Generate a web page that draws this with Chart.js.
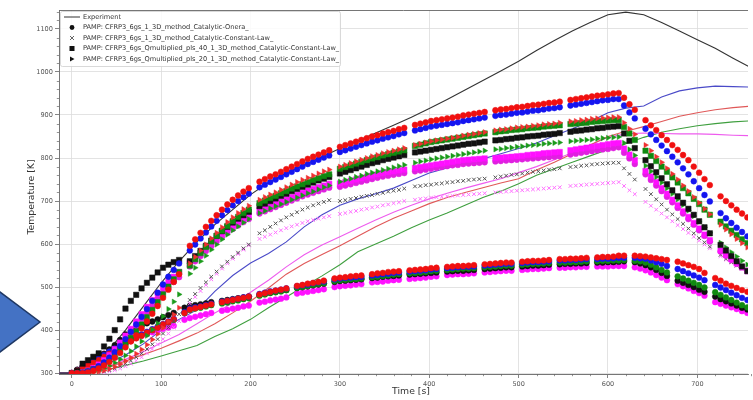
<!DOCTYPE html>
<html><head><meta charset="utf-8">
<script src="https://cdn.jsdelivr.net/npm/chart.js@4.4.1/dist/chart.umd.min.js"></script>
<style>
html,body{margin:0;padding:0;background:#fff;overflow:hidden}
#wrap{position:relative;width:753px;height:400px}
#arrow{position:absolute;left:0;top:0}
</style></head><body>
<div id="wrap"><canvas id="c" width="753" height="400"></canvas>
<svg id="arrow" width="60" height="400"><polygon points="-12,283 40,322 -12,361" fill="#4472c4" stroke="#1f3864" stroke-width="1.5"/></svg></div>
<script>
// ---- time grid of simulation outputs [s]
const times = [0,6,12,18,24,30,36,42,48,54,
60,66,72,78,84,90,96,102,108,114,
120,126,132,138,144,150,156,162,168,174,
180,186,192,198,204,210,216,222,228,234,
240,246,252,258,264,270,276,282,288,294,
300,306,312,318,324,330,336,342,348,354,
360,366,372,378,384,390,396,402,408,414,
420,426,432,438,444,450,456,462,468,474,
480,486,492,498,504,510,516,522,528,534,
540,546,552,558,564,570,576,582,588,594,
600,606,612,618,624,630,636,642,648,654,
660,666,672,678,684,690,696,702,708,714,
720,726,732,738,744,750,756];

// ---- upper band (surface probes)
const onerRed = [300,300,300,302,306,311,318,326,336,347,360,374,388,404,420,438,456,475,494,512,530,null,
596,611,626,640,654,667,680,692,703,713,722,730,null,
745,751,757,762,768,774,780,786,792,798,803,808,813,818,null,
826,830,834,838,842,846,850,853,857,860,863,867,870,null,
877,880,883,886,888,890,892,894,896,899,901,903,905,907,null,
911,913,914,916,918,919,921,923,924,926,928,929,931,null,
935,937,939,941,943,945,946,948,950,951,940,925,912,null,
888,876,865,853,842,830,819,807,795,780,766,751,737,null,
711,700,690,680,671,662];
const onerBlue = [300,300,301,304,309,316,325,336,349,363,379,396,413,431,449,468,487,506,524,540,555,null,
585,599,613,627,641,654,667,679,690,700,709,717,null,
732,738,744,750,756,762,768,774,780,786,791,796,801,806,null,
814,818,822,826,830,834,838,841,845,848,851,855,858,null,
864,867,870,873,875,877,879,881,883,886,888,890,892,894,null,
898,900,901,903,905,906,908,910,911,913,915,916,918,null,
922,924,926,928,930,932,934,935,937,937,922,906,892,null,
868,855,842,829,816,803,790,776,762,746,730,714,699,null,
672,660,649,638,628,618];
const q20Red = [300,300,300,300,301,303,306,310,315,321,328,336,345,355,366,378,391,405,420,436,452,null,
555,570,585,599,613,626,639,651,662,672,681,689,null,
703,709,715,720,726,732,738,744,749,754,759,764,769,773,null,
780,784,788,792,796,800,804,807,811,814,817,820,823,null,
830,833,836,839,841,843,845,847,849,852,854,856,858,860,null,
864,866,867,869,871,872,873,875,876,878,879,880,882,null,
885,886,888,889,891,892,893,894,895,895,882,868,855,null,
830,817,803,790,776,763,750,736,723,709,696,682,669,null,
645,634,623,612,602,592];
const q40Green = [300,300,301,304,309,315,323,332,343,355,368,382,397,413,430,447,465,483,501,518,535,null,
550,565,579,593,606,619,631,642,653,663,672,680,null,
695,701,707,712,718,723,729,734,739,744,749,753,758,762,null,
775,779,783,787,791,795,799,802,806,809,812,815,818,null,
828,831,834,837,839,841,843,845,847,849,851,853,855,857,null,
860,862,863,865,866,867,869,870,871,873,874,875,876,null,
879,880,881,882,884,885,886,887,888,888,872,857,842,null,
817,805,793,780,768,755,743,730,718,705,693,680,668,null,
652,641,631,621,611,602];
const q40Black = [300,305,322,330,338,346,362,380,400,425,450,468,482,497,510,522,534,545,552,558,563,null,
560,572,584,596,608,619,630,640,650,659,667,675,null,
688,694,700,706,712,717,723,728,733,738,743,748,752,756,null,
764,768,772,776,780,784,788,791,795,798,801,804,807,null,
813,815,817,819,821,823,825,827,829,831,833,834,836,838,null,
841,842,844,845,847,848,850,851,852,854,855,856,858,null,
861,863,864,866,867,869,870,872,873,874,857,840,823,null,
795,781,767,753,739,725,711,696,682,668,653,639,625,null,
598,585,572,560,548,537];
const q20Green = [300,300,300,301,303,306,311,317,324,332,341,351,362,374,387,401,416,432,449,466,483,null,
531,545,560,573,587,599,611,622,632,641,650,658,null,
672,677,683,688,693,698,703,708,713,718,722,727,732,736,null,
745,749,752,756,759,763,766,769,772,775,778,781,784,null,
789,792,794,797,799,801,803,805,807,809,811,813,815,817,null,
820,821,823,824,826,827,829,830,831,833,834,835,836,null,
839,840,841,842,843,845,846,847,848,849,835,820,806,null,
782,769,756,743,730,717,704,691,678,665,652,639,626,null,
603,592,581,571,561,552];
const q40Magenta = [300,300,302,306,312,320,330,342,356,371,387,403,420,437,454,470,485,499,512,524,535,null,
556,568,580,592,604,614,624,634,643,651,659,666,null,
679,684,689,694,699,704,709,714,719,724,728,732,736,740,null,
741,744,747,750,753,756,759,762,765,767,769,771,773,null,
777,779,781,783,785,787,789,791,793,795,796,797,798,799,null,
800,801,802,803,804,805,807,808,809,811,812,813,814,null,
818,820,822,824,826,828,830,832,834,835,822,808,795,null,
770,757,744,730,717,703,690,676,663,649,636,622,609,null,
585,575,565,555,546,537];
const onerMagenta = [300,300,301,304,309,316,325,336,349,363,378,394,410,426,442,458,473,487,500,512,523,null,
548,560,572,584,595,606,616,626,635,643,651,658,null,
671,676,681,686,691,696,701,706,711,715,719,723,727,731,null,
733,736,739,742,745,748,751,754,757,759,761,763,765,null,
769,771,773,775,777,779,781,783,784,786,787,788,789,790,null,
792,793,794,795,796,797,798,799,800,801,802,803,804,null,
808,810,812,814,816,818,820,821,823,825,812,799,786,null,
762,749,736,723,710,697,684,671,658,645,632,619,606,null,
583,573,563,554,546,538];
const constBlack = [300,300,300,300,301,302,304,307,311,316,322,329,337,346,356,367,379,392,406,421,437,null,
470,484,498,511,524,536,548,559,570,580,590,599,null,
625,632,640,648,655,662,668,674,680,685,690,694,698,702,null,
700,702,705,707,710,712,714,717,719,722,724,726,729,null,
734,735,737,738,740,741,743,744,746,747,749,750,751,752,null,
755,757,759,761,762,764,766,768,769,771,773,774,776,null,
779,780,782,783,785,786,787,788,789,789,776,763,750,null,
728,716,704,692,680,669,658,647,636,625,614,604,594,null,
575,566,558,550,543,537];
const constPink = [300,300,300,300,300,301,302,304,307,311,316,322,329,337,346,356,367,379,392,406,421,null,
462,477,491,505,518,531,543,555,566,577,587,597,null,
612,617,622,627,632,637,641,645,649,653,656,659,662,665,null,
670,672,675,677,680,682,685,687,690,692,695,697,700,null,
703,705,706,708,709,710,711,712,713,714,715,716,717,718,null,
720,721,722,723,724,725,726,727,728,729,730,731,732,null,
735,736,737,738,739,740,741,742,743,744,735,725,716,null,
698,689,680,671,662,653,644,635,626,617,608,599,590,null,
572,564,557,550,543,537];

// ---- lower band (in-depth probes)
const lowRed = [300,306,312,318,324,330,338,345,353,360,368,374,381,387,394,400,406,413,419,425,null,
440,448,451,454,457,460,null, 465,468,470,473,475,478,null, 483,486,489,492,494,497,null,
503,505,508,510,512,515,null, 520,522,523,525,526,527,null, 530,532,533,535,536,537,null,
539,540,541,542,544,545,null, 547,548,549,549,550,551,null, 553,554,555,556,557,557,null,
559,560,561,561,562,563,null, 565,565,566,566,567,568,null, 569,570,570,571,573,573,null,
573,572,571,569,567,565,563,null, 559,555,551,547,542,533,null, 521,515,508,503,498,493,489];
const lowBlue = [300,306,313,320,327,334,342,350,357,365,372,378,384,390,396,402,408,414,420,426,null,
442,450,453,455,458,461,null, 466,468,471,473,476,478,null, 484,487,490,492,494,497,null,
502,504,506,509,511,513,null, 518,520,521,522,523,524,null, 527,528,530,531,533,534,null,
536,537,538,539,541,542,null, 544,545,546,547,547,548,null, 550,551,552,553,554,554,null,
556,557,558,558,559,560,null, 562,562,563,563,564,565,null, 565,566,566,567,568,568,null,
568,567,566,562,558,554,549,null, 542,537,532,527,522,516,null, 505,499,493,487,481,475,470];
const lowGreen = [300,306,313,320,327,334,341,348,355,362,370,376,382,388,394,400,406,412,418,424,null,
440,447,450,452,455,458,null, 462,464,467,469,472,474,null, 480,483,486,488,490,493,null,
498,500,502,505,507,509,null, 514,516,517,518,519,520,null, 523,524,526,527,529,530,null,
532,533,534,535,537,538,null, 540,541,542,543,543,544,null, 546,547,548,549,550,550,null,
552,553,554,554,555,556,null, 557,557,558,558,559,560,null, 560,561,561,562,562,563,null,
561,560,557,552,546,540,534,null, 525,520,515,510,505,499,null, 488,482,476,470,464,458,453];
const lowBlack = [300,308,315,322,329,336,345,355,365,377,390,398,405,411,416,420,425,430,435,440,null,
452,456,458,460,462,465,null, 468,470,472,474,476,478,null, 482,484,487,489,491,493,null,
498,500,502,504,506,508,null, 512,514,515,516,517,518,null, 521,522,524,525,526,527,null,
529,530,531,532,533,534,null, 536,537,538,538,539,540,null, 542,543,544,545,546,546,null,
548,549,550,550,551,552,null, 553,554,554,555,555,556,null, 557,557,558,558,559,560,null,
558,555,551,546,540,533,526,null, 515,510,505,500,494,489,null, 478,472,467,462,457,452,448];
const lowMagenta = [300,307,315,323,331,338,345,352,359,366,373,378,383,387,391,395,399,403,406,410,null,
424,428,431,434,437,440,null, 445,447,450,452,455,457,null, 464,466,469,471,473,476,null,
485,487,489,491,493,495,null, 500,502,503,504,506,507,null, 511,512,513,515,516,517,null,
519,520,521,522,524,525,null, 528,529,530,530,531,532,null, 534,535,536,537,538,538,null,
540,541,542,542,543,544,null, 545,545,546,546,547,547,null, 548,548,548,549,549,549,null,
546,543,539,534,528,522,516,null, 507,502,497,491,486,480,null, 465,461,457,453,449,444,440];

// ---- experiment (thermocouples)
const lineT = [-14,0,20,40,60,80,100,120,140,160,180,200,220,240,260,280,300,320,340,360,380,400,420,440,460,480,500,520,540,560,580,600,620,640,660,680,700,720,740,757];
const expBlack = [300,300,315,350,400,455,510,560,605,645,680,715,743,765,784,803,822,840,858,876,895,915,936,958,980,1002,1025,1050,1073,1095,1115,1133,1139,1133,1115,1095,1075,1055,1032,1013];
const expBlue = [300,300,308,322,342,368,400,425,447,490,527,556,578,605,640,668,690,705,717,730,748,765,777,788,798,810,822,835,852,868,885,905,916,921,942,956,963,967,966,965];
const expRed = [300,300,302,312,328,343,358,375,393,415,440,467,498,530,555,576,596,618,640,660,677,694,708,720,731,742,752,772,790,810,830,850,862,873,885,897,905,912,917,920];
const expMagenta = [300,300,302,314,332,350,370,390,415,440,463,488,516,547,575,598,617,637,656,674,690,705,718,730,741,752,766,780,796,812,830,848,856,858,857,856,856,855,853,852];
const expGreen = [300,300,300,308,318,328,340,352,364,385,403,425,452,477,502,526,552,582,600,618,638,656,672,690,708,723,740,760,775,790,805,820,833,848,860,868,875,880,884,886];

const xTicks = [0,100,200,300,400,500,600,700];
const yTicks = [300,400,500,600,700,800,900,1000,1100];
const legendLabels = ["Experiment",
 "PAMP: CFRP3_6gs_1_3D_method_Catalytic-Onera_",
 "PAMP: CFRP3_6gs_1_3D_method_Catalytic-Constant-Law_",
 "PAMP: CFRP3_6gs_Qmultiplied_pls_40_1_3D_method_Catalytic-Constant-Law_",
 "PAMP: CFRP3_6gs_Qmultiplied_pls_20_1_3D_method_Catalytic-Constant-Law_"];

function pts(vals){const o=[];for(let i=0;i<vals.length;i++){if(vals[i]!==null)o.push({x:times[i],y:vals[i]});}return o;}
function lpts(vals){return lineT.map((t,i)=>({x:t,y:vals[i]}));}
function mk(label, vals, color, style, r, rot){
  return {label, data:pts(vals), showLine:false, pointStyle:style, pointRadius:r, pointRotation:rot||0,
    pointBackgroundColor:color, pointBorderColor:color, pointBorderWidth:style==='crossRot'?1:0.5, backgroundColor:color, borderColor:color};
}
function ln(label, vals, color){
  return {label, data:lpts(vals), showLine:true, pointRadius:0, borderColor:color, borderWidth:1.1, tension:0, fill:false};
}

const datasets = [
  mk('U red o', onerRed, '#f01010', 'circle', 2.9),
  mk('U blue o', onerBlue, '#1515f0', 'circle', 2.9),
  mk('U red >', q20Red, '#f03030', 'triangle', 3.0, 90),
  mk('U green s', q40Green, '#108a10', 'rect', 3.8),
  mk('U black s', q40Black, '#111111', 'rect', 3.8),
  mk('U green >', q20Green, '#1a9a1a', 'triangle', 3.0, 90),
  mk('U magenta s', q40Magenta, '#ff10ff', 'rect', 3.8),
  mk('U magenta o', onerMagenta, '#e020e0', 'circle', 2.9),
  mk('U black x', constBlack, '#555555', 'crossRot', 2.6),
  mk('U pink x', constPink, '#ff70ff', 'crossRot', 2.6),
  mk('L red', lowRed, '#f01010', 'circle', 2.9),
  mk('L blue', lowBlue, '#1515f0', 'circle', 2.9),
  mk('L green', lowGreen, '#108a10', 'circle', 2.9),
  mk('L black', lowBlack, '#111111', 'circle', 2.9),
  mk('L magenta', lowMagenta, '#ff10ff', 'circle', 2.9),
  ln('Exp black', expBlack, '#333333'),
  ln('Exp blue', expBlue, '#4a4ac8'),
  ln('Exp red', expRed, '#e05858'),
  ln('Exp magenta', expMagenta, '#ee5cee'),
  ln('Exp green', expGreen, '#3f9f3f')
];

const FONT = '"DejaVu Sans", sans-serif';
const deco = {
  id:'deco',
  afterDraw(chart){
    const {ctx, chartArea:a, scales:{x,y}} = chart;
    ctx.save();
    ctx.strokeStyle='#666'; ctx.lineWidth=0.9;
    ctx.beginPath(); ctx.moveTo(a.left, a.top+0.5); ctx.lineTo(a.right, a.top+0.5); ctx.stroke();
    // minor ticks
    ctx.beginPath(); ctx.lineWidth=0.7;
    for(let v=-0;v<=760;v+=20){ if(v%100===0) continue; const px=Math.round(x.getPixelForValue(v))+0.5; ctx.moveTo(px,a.bottom); ctx.lineTo(px,a.bottom+2.2); }
    for(let v=300;v<=1140;v+=20){ if(v%100===0) continue; const py=Math.round(y.getPixelForValue(v))+0.5; ctx.moveTo(a.left,py); ctx.lineTo(a.left-2.2,py); }
    ctx.stroke();
    // axis titles
    ctx.fillStyle='#333'; ctx.textAlign='center'; ctx.textBaseline='middle';
    ctx.font='9.3px '+FONT; ctx.fillText('Time [s]', 411, 392);
    ctx.save(); ctx.translate(32,197); ctx.rotate(-Math.PI/2); ctx.font='9.3px '+FONT; ctx.fillText('Temperature [K]',0,0); ctx.restore();
    // legend
    const lx=60, ly=11, lw=280, lh=55;
    ctx.fillStyle='rgba(255,255,255,0.85)'; ctx.strokeStyle='#cfcfcf'; ctx.lineWidth=0.8;
    ctx.beginPath(); ctx.roundRect(lx+0.5,ly+0.5,lw,lh,2); ctx.fill(); ctx.stroke();
    const rows=[17,27.5,38,48.5,59];
    ctx.font='6.6px '+FONT; ctx.textAlign='left'; ctx.fillStyle='#333';
    rows.forEach((ry,i)=>{ ctx.fillStyle='#333'; ctx.fillText(legendLabels[i], 83, ry); });
    ctx.strokeStyle='#333'; ctx.fillStyle='#111'; ctx.lineWidth=1;
    ctx.beginPath(); ctx.moveTo(64,rows[0]); ctx.lineTo(80,rows[0]); ctx.stroke();
    ctx.beginPath(); ctx.arc(72,rows[1],2.4,0,Math.PI*2); ctx.fill();
    ctx.strokeStyle='#666'; ctx.beginPath(); ctx.moveTo(70,rows[2]-2); ctx.lineTo(74,rows[2]+2); ctx.moveTo(74,rows[2]-2); ctx.lineTo(70,rows[2]+2); ctx.stroke();
    ctx.fillRect(69.5,rows[3]-2.5,5,5);
    ctx.beginPath(); ctx.moveTo(70,rows[4]-2.6); ctx.lineTo(74.5,rows[4]); ctx.lineTo(70,rows[4]+2.6); ctx.closePath(); ctx.fill();
    ctx.restore();
  }
};

new Chart(document.getElementById('c'), {
  type:'scatter',
  data:{datasets},
  options:{
    responsive:false, animation:false, events:[],
    layout:{padding:{top:10,right:0,left:0,bottom:0}},
    plugins:{legend:{display:false}, tooltip:{enabled:false}},
    scales:{
      x:{type:'linear', min:-14.4, max:756.7,
        afterBuildTicks:(s)=>{s.ticks=xTicks.map(v=>({value:v}));},
        afterFit:(s)=>{s.height=26;},
        grid:{color:'#dcdcdc', lineWidth:0.8, tickLength:4, tickColor:'#666'},
        border:{color:'#666', width:0.9},
        ticks:{font:{family:FONT,size:6.5}, color:'#555', padding:2, maxRotation:0, autoSkip:false, callback:(v)=>String(v)}},
      y:{type:'linear', min:298, max:1144,
        afterBuildTicks:(s)=>{s.ticks=yTicks.map(v=>({value:v}));},
        afterFit:(s)=>{s.width=59;},
        grid:{color:'#dcdcdc', lineWidth:0.8, tickLength:4, tickColor:'#666'},
        border:{color:'#666', width:0.9},
        ticks:{font:{family:FONT,size:6.6}, color:'#555', padding:2, autoSkip:false, callback:(v)=>String(v)}}
    }
  },
  plugins:[deco]
});
</script>
</body></html>
